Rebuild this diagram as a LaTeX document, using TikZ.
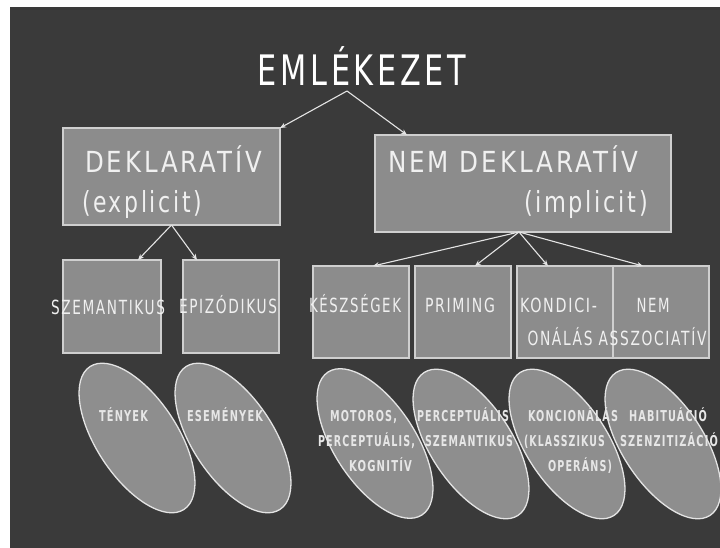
\documentclass[tikz,border=0pt]{standalone}
\usepackage{fontspec}
\setmainfont{DejaVu Sans}[LetterSpace=12]
\usepackage{graphicx}
\usetikzlibrary{shapes.geometric,arrows.meta}
\definecolor{bg}{HTML}{3A3A3A}
\definecolor{boxfill}{HTML}{8C8C8C}
\definecolor{boxline}{HTML}{CFCFCF}
\definecolor{ellline}{HTML}{E4E4E4}
\definecolor{ellfill}{HTML}{8E8E8E}
\definecolor{txt}{HTML}{F0F0F0}
\definecolor{etxt}{HTML}{E6E6E6}
\newcommand{\fw}[2]{\resizebox{#1pt}{\height}{#2}}
\begin{document}
\begin{tikzpicture}[x=1pt,y=-1pt,
  boxn/.style={draw=boxline, fill=boxfill, line width=1.1pt, rectangle, inner sep=0pt, outer sep=0pt},
  elln/.style={draw=ellline, fill=ellfill, line width=1.3pt, ellipse, inner sep=0pt, outer sep=0pt,
     minimum width=171pt, minimum height=81pt, rotate=-56.6},
  arr/.style={draw=ellline, line width=1.1pt, -{Stealth[length=6pt,width=5pt]}},
  lbl/.style={text=txt, inner sep=0pt, outer sep=0pt},
  big/.style={lbl, font=\fontsize{29}{29}\selectfont},
  mid/.style={lbl, font=\fontsize{19.5}{19.5}\selectfont},
  sml/.style={text=etxt, inner sep=0pt, outer sep=0pt, font=\fontsize{15}{15}\selectfont\bfseries}
]
\fill[white] (0,0) rectangle (720,548);
\useasboundingbox (0,0) rectangle (720,548);
\fill[bg] (10,7) rectangle (720,548);

% title
\node[lbl, text=white, font=\fontsize{42}{42}\selectfont, anchor=base] (title) at (362,86) {\fw{208}{EMLÉKEZET}};
\coordinate (tap) at (347,91);

% level 1 boxes
\node[boxn, minimum width=217pt, minimum height=97pt] (dek) at (171.5,176.5) {};
\node[boxn, minimum width=296pt, minimum height=97pt] (ndek) at (523,183.5) {};
\node[big, anchor=base west] (dekt1) at (85,173) {\fw{177}{DEKLARATÍV}};
\node[big, anchor=base west] (dekt2) at (82,212) {\fw{120}{(explicit)}};
\node[big, anchor=base west] (ndekt1) at (388,173) {\fw{250}{NEM DEKLARATÍV}};
\node[big, anchor=base east] (ndekt2) at (648,212) {\fw{124}{(implicit)}};

\draw[arr] (tap) -- (dek.north east);
\draw[arr] (tap) -- ([xshift=32pt]ndek.north west);

% level 2 boxes
\node[boxn, minimum width=98pt, minimum height=93pt] (szem) at (112,306.5) {};
\node[boxn, minimum width=96pt, minimum height=93pt] (epiz) at (231,306.5) {};
\node[boxn, minimum width=96pt, minimum height=92pt] (kesz) at (361,312) {};
\node[boxn, minimum width=96pt, minimum height=92pt] (prim) at (463,312) {};
\node[boxn, minimum width=96pt, minimum height=92pt] (kond) at (565,312) {};
\node[boxn, minimum width=96pt, minimum height=92pt] (nema) at (661,312) {};

\draw[arr] (dek.south) -- ([xshift=75pt]szem.north west);
\draw[arr] (dek.south) -- ([xshift=14pt]epiz.north west);
\draw[arr] ([xshift=-4pt]ndek.south) -- ([xshift=60pt]kesz.north west);
\draw[arr] ([xshift=-4pt]ndek.south) -- ([xshift=60pt]prim.north west);
\draw[arr] ([xshift=-4pt]ndek.south) -- ([xshift=31pt]kond.north west);
\draw[arr] ([xshift=-4pt]ndek.south) -- ([xshift=30pt]nema.north west);

\node[mid, anchor=base] (szemt) at (108,314) {\fw{114}{SZEMANTIKUS}};
\node[mid, anchor=base] (epizt) at (228,313) {\fw{98}{EPIZÓDIKUS}};
\node[mid, anchor=base] (keszt) at (355,312) {\fw{92}{KÉSZSÉGEK}};
\node[mid, anchor=base] (primt) at (460,312) {\fw{70}{PRIMING}};
\node[mid, anchor=base west] (kondt) at (520,312) {\fw{77}{KONDICI-}};
\node[mid, anchor=base] (nemt) at (653,312) {\fw{33}{NEM}};
\node[mid, anchor=base] (onat) at (617,345) {\fw{179}{ONÁLÁS ASSZOCIATÍV}};

% ellipses
\node[elln] (e1) at (137,438) {};
\node[elln] (e2) at (233,438) {};
\node[elln] (e3) at (375,443.5) {};
\node[elln] (e4) at (471,444) {};
\node[elln] (e5) at (567,444) {};
\node[elln] (e6) at (663,444) {};

\node[sml, anchor=base] (e1t) at (123.5,421.5) {\fw{49}{TÉNYEK}};
\node[sml, anchor=base] (e2t) at (225,421.5) {\fw{76}{ESEMÉNYEK}};
\node[sml, anchor=base] (e3t1) at (363.5,421.5) {\fw{67}{MOTOROS,}};
\node[sml, anchor=base] (e3t2) at (366.5,446.5) {\fw{97}{PERCEPTUÁLIS,}};
\node[sml, anchor=base] (e3t3) at (380.5,471.5) {\fw{63}{KOGNITÍV}};
\node[sml, anchor=base] (e4t1) at (463,421.5) {\fw{92}{PERCEPTUÁLIS}};
\node[sml, anchor=base] (e4t2) at (469,446.5) {\fw{88}{SZEMANTIKUS}};
\node[sml, anchor=base] (e5t1) at (573,421.5) {\fw{90}{KONCIONÁLÁS}};
\node[sml, anchor=base] (e5t2) at (564.5,446.5) {\fw{81}{(KLASSZIKUS}};
\node[sml, anchor=base] (e5t3) at (580,471.5) {\fw{64}{OPERÁNS)}};
\node[sml, anchor=base] (e6t1) at (668,421.5) {\fw{78}{HABITUÁCIÓ}};
\node[sml, anchor=base] (e6t2) at (669,446.5) {\fw{98}{SZENZITIZÁCIÓ}};
\end{tikzpicture}
\end{document}
